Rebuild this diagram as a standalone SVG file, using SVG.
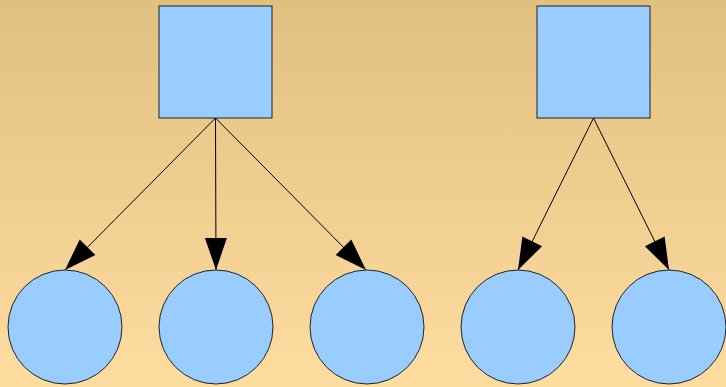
<svg xmlns="http://www.w3.org/2000/svg" width="726" height="387" viewBox="0 0 726 387">
  <defs>
    <linearGradient id="bg" x1="0" y1="0" x2="0" y2="1">
      <stop offset="0" stop-color="#e0c080"/>
      <stop offset="1" stop-color="#ffdca0"/>
    </linearGradient>
    <marker id="arrow" markerUnits="userSpaceOnUse" markerWidth="34" markerHeight="24" refX="32" refY="0" viewBox="0 -12 34 24" orient="auto" overflow="visible">
      <path d="M0,-11 L32,0 L0,11 z" fill="#000"/>
    </marker>
    <style>
      .node { fill: #99ccff; stroke: #222; stroke-width: 1; }
      .edge { stroke: #000; stroke-width: 1; fill: none; marker-end: url(#arrow); }
    </style>
  </defs>
  <rect x="0" y="0" width="726" height="387" fill="url(#bg)"/>

  <g id="connectors">
    <line class="edge" x1="215.5" y1="118" x2="65" y2="270"/>
    <line class="edge" x1="215.5" y1="118" x2="216" y2="270"/>
    <line class="edge" x1="215.5" y1="118" x2="366" y2="270"/>
    <line class="edge" x1="593.5" y1="118" x2="518" y2="270"/>
    <line class="edge" x1="593.5" y1="118" x2="669" y2="270"/>
  </g>

  <g id="parent-a"><rect class="node" x="159" y="6" width="113" height="112"/></g>
  <g id="parent-b"><rect class="node" x="537" y="6" width="113" height="112"/></g>

  <g id="child-1"><circle class="node" cx="65" cy="327" r="57"/></g>
  <g id="child-2"><circle class="node" cx="216" cy="327" r="57"/></g>
  <g id="child-3"><circle class="node" cx="367" cy="327" r="57"/></g>
  <g id="child-4"><circle class="node" cx="518" cy="327" r="57"/></g>
  <g id="child-5"><circle class="node" cx="669" cy="327" r="57"/></g>
</svg>
